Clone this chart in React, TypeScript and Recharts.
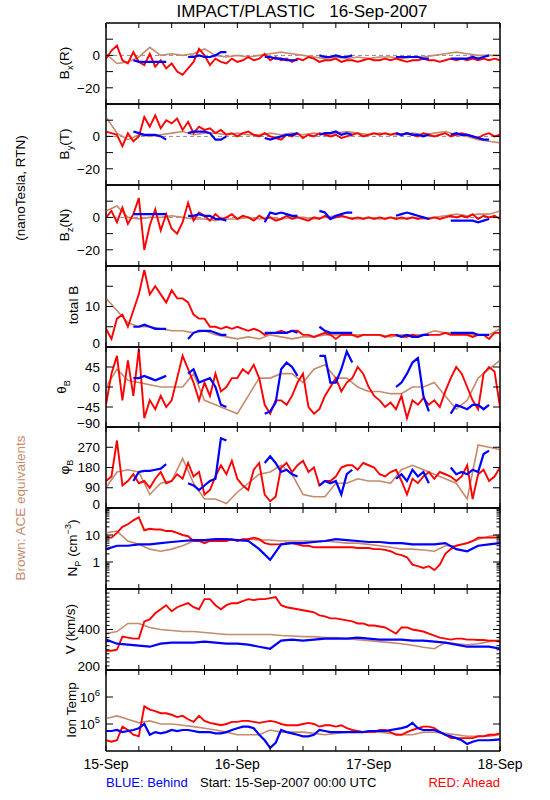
import React from 'react';
import { LineChart, Line, XAxis, YAxis, ReferenceLine, ReferenceArea } from 'recharts';

const FONT = '"Liberation Sans", Arial, sans-serif';
const RED = '#ff0000';
const BLUE = '#0000ff';
const BROWN = '#c68a6c';

// hours after 15-Sep-2007 00:00 UTC
const HOURS = [0,1,2,3,4,5,6,7,8,9,10,11,12,13,14,15,16,17,18,19,20,21,22,23,24,25,26,27,28,29,30,31,32,33,34,35,36,37,38,39,40,41,42,43,44,45,46,47,48,49,50,51,52,53,54,55,56,57,58,59,60,61,62,63,64,65,66,67,68,69,70,71,72];
const HOURS2 = [0,2,4,6,8,10,12,14,16,18,20,22,24,26,28,30,32,34,36,38,40,42,44,46,48,50,52,54,56,58,60,62,64,66,68,70,72];

const TIME_TICKS = [0,6,12,18,24,30,36,42,48,54,60,66,72];
const DAY_LABELS: Record<number, string> = { 0: '15-Sep', 24: '16-Sep', 48: '17-Sep', 72: '18-Sep' };

const n = null;

// Bx (R), nT
const bxRed = [
  -2, 3, 6, -3, -5, 2, -4, -6, 1, -7, -3, -8,
  -5, -10, -12, -8, -4, 4, 0, -6, -2, -4, -5, -2,
  -4, -3, -1, -3, -2, 1, -3, -1, -3, -2, -4, -2,
  -3, -1, -2, -4, -3, -3, -2, -4, -3, -3, -4, -3,
  -2, -3, -3, -2, -3, -2, -3, -4, -3, -3, -2, -3,
  -3, -4, -3, -2, -3, -2, -3, -2, -3, -2, -3, -2,
  -3,
];
const bxBlue = [
  n, n, n, n, n, -3, -4, -4, -4, -4, -4, -4,
  n, n, n, -1, -1, 0, -1, -1, 0, 2, 2, n,
  n, n, n, n, n, -1, -1, -2, -2, -3, -3, -3,
  n, n, n, 0, -1, -1, 0, -1, -1, 0, n, n,
  n, n, n, n, n, -1, -1, -1, -1, -1, -2, -2,
  n, n, n, -2, -2, -2, -2, -1, -2, -1, 0, n,
  n,
];
const bxBrown = [
  1, -5, -4, -1, 5, 0, 1, 0, 1, 4, 0, -1,
  0, -1, 0, 1, 2, 1, 0, -1, -2, -1, -2, -1,
  -2, -1, -1, -2, -1, -1, 0, 1, 2, 1, 0, 0,
  0,
];

// By (T), nT
const byRed = [
  3, 2, 1, -6, 2, -3, 0, 12, 6, 13, 5, 10,
  8, 11, 4, 9, 2, 6, 4, 5, 2, 4, 1, 2,
  0, 2, 3, 1, 0, 2, 0, -1, -2, 1, 0, 2,
  -1, 1, 0, 2, 1, 0, 1, -1, 0, 1, 2, 0,
  1, 2, 1, 2, 1, 2, 1, 2, 1, 0, 2, 1,
  0, 1, 2, 0, 1, 2, 1, 0, -1, 1, 2, 0,
  1,
];
const byBlue = [
  n, n, n, n, n, 3, 2, 1, 1, 1, 0, -2,
  n, n, n, 2, 3, 3, 3, 2, -2, -2, 0, n,
  n, n, n, n, n, -1, -2, -1, 0, 1, 1, 2,
  n, n, n, 1, 2, 2, 3, 1, 2, 1, n, n,
  n, n, n, n, n, 2, 1, 2, 1, 1, 0, 1,
  n, n, n, 1, 2, 1, 1, 0, -1, -2, -2, n,
  n,
];
const byBrown = [
  12, 2, -2, 1, 0, 1, 2, 3, 1, 2, 2, 1,
  2, 1, 1, 2, 1, 2, 1, 2, 1, 2, 3, 2,
  1, 2, 1, 1, 2, 1, 2, 3, 1, 0, -2, -3,
  -4,
];

// Bz (N), nT
const bzRed = [
  0, 4, -3, 6, -4, 2, 12, -20, -5, 5, -8, 2,
  -7, -10, -3, 9, -2, 3, 1, -2, 2, -1, 0, 2,
  -1, 1, 0, -2, 1, -1, 0, -2, -1, 1, -1, 0,
  -1, -2, 0, -1, 1, -1, 0, 1, 0, -1, 0, -1,
  0, -1, 0, -1, 0, -1, 0, -1, 0, -1, 0, -1,
  0, -1, 0, 1, 0, 1, 0, 2, -1, 1, 0, 1,
  -1,
];
const bzBlue = [
  n, n, n, n, n, 2, 2, 2, 2, 2, 2, 2,
  n, n, n, 1, 1, 2, 1, 1, -1, -1, -2, n,
  n, n, n, n, n, -3, 3, 2, 3, 2, 1, 1,
  n, n, n, 4, 3, -1, 1, 2, 3, 3, n, n,
  n, n, n, n, n, 1, 2, 3, 2, 1, 0, -1,
  n, n, n, -2, -2, -2, -2, -2, -3, -2, -1, n,
  n,
];
const bzBrown = [
  4, 7, 0, -1, 0, 0, 1, 0, -1, -1, -2, -1,
  -1, 0, -1, 0, -1, 0, 0, -1, 0, 1, 0, -1,
  0, -1, 0, -1, 0, -1, 0, 1, 2, 1, 2, 2,
  4,
];

// total B, nT
const btRed = [
  4.5, 2, 7, 8, 5, 9, 13, 19, 13, 15, 13, 11,
  14, 12, 12, 11, 8, 7, 7, 5, 5, 4.5, 5, 4.5,
  5, 4.5, 4, 4.5, 4, 3, 3.5, 3.5, 4, 3.5, 4, 4,
  3, 3, 2.5, 3, 3.5, 3, 2, 3, 3, 3, 2.5, 3,
  3, 3, 3, 2.5, 3, 3, 2.5, 2.5, 3, 2.5, 3, 3,
  3, 3, 3.5, 3, 3, 3, 3, 2.5, 3, 3, 2, 3.5,
  3.5,
];
const btBlue = [
  n, n, n, n, n, 5, 5, 5.5, 5, 4.5, 4.5, 4.5,
  n, n, n, 2, 3.5, 4, 4, 4, 3.5, 3, 3, n,
  n, n, n, n, n, 3.5, 3.5, 3.5, 3.5, 3.5, 4, 3.5,
  n, n, n, 5, 4, 3.5, 3.5, 3.5, 3.5, 3.5, n, n,
  n, n, n, n, n, 3, 2.5, 3, 2.5, 2.5, 3, 3,
  n, n, n, 3.5, 3.5, 3.5, 3.5, 3.5, 3, 3, 3, n,
  n,
];
const btBrown = [
  12, 9, 6, 5, 5, 4.5, 4, 4, 3.5, 4, 3, 2.5,
  2, 2.5, 2, 3, 2.5, 2, 2.5, 2.5, 3, 3, 3, 3,
  3, 3, 2.5, 3, 3, 3, 4, 3.5, 3.5, 3, 3, 3,
  4.5,
];

// theta_B, degrees
const thRed = [
  -40, 30, 70, -30, 60, -20, 85, -70, -30, -50, -20, -45,
  -30, 20, 70, 40, 10, -30, 10, -20, 30, -10, 0, 20,
  20, 40, 30, 50, 20, -40, -60, -30, -30, -40, -20, 10,
  30, -45, -60, -50, -20, 0, 20, -10, 10, 20, 45, 30,
  0, -20, -30, -45, -35, -50, -20, -70, -30, -40, -25, -40,
  -30, -45, -10, 20, 45, 30, 0, -30, -50, 30, 45, 35,
  -45,
];
const thBlue = [
  n, n, n, n, n, 20, 20, 25, 20, 15, 20, 25,
  n, n, n, 30, 40, 10, 15, 20, 0, -40, -45, n,
  n, n, n, n, n, -60, -55, -35, 40, 55, 45, 25,
  n, n, n, 70, 70, 10, 10, 40, 80, 55, n, n,
  n, n, n, n, n, 0, 10, 30, 55, 65, -20, -55,
  n, n, n, -60, -40, -45, -50, -40, -40, -50, -40, n,
  n,
];
const thBrown = [
  0, 40, 15, 10, 5, 0, 0, 0, 30, -30, -40, -50,
  -60, -20, 20, 20, 30, 30, 10, 40, 50, 20, 20, 0,
  -10, -10, -15, -15, 0, 0, 10, -20, -50, -30, 20, 40,
  60,
];

// phi_B, degrees
const phRed = [
  120, 140, 300, 100, 120, 150, 110, 120, 90, 130, 160, 110,
  120, 150, 130, 200, 140, 160, 60, 80, 140, 190, 150, 210,
  130, 100, 80, 170, 200, 60, 30, 50, 180, 200, 160, 190,
  210, 160, 180, 100, 120, 120, 140, 180, 190, 190, 170, 200,
  190, 180, 150, 140, 160, 170, 120, 60, 130, 110, 140, 160,
  130, 160, 150, 140, 120, 140, 190, 40, 150, 170, 120, 140,
  180,
];
const phBlue = [
  n, n, n, n, n, 120, 160, 165, 165, 170, 175, 195,
  n, n, n, 110, 100, 80, 100, 120, 130, 310, 300, n,
  n, n, n, n, n, 200, 230, 200, 160, 170, 150, 140,
  n, n, n, 100, 120, 110, 120, 60, 150, 170, n, n,
  n, n, n, n, n, 130, 150, 120, 170, 140, 160, 110,
  n, n, n, 180, 150, 160, 150, 170, 160, 240, 255, n,
  n,
];
const phBrown = [
  90, 160, 170, 160, 60, 110, 120, 220, 110, 40, 40, 20,
  70, 110, 150, 160, 190, 150, 60, 50, 50, 110, 110, 130,
  120, 120, 110, 170, 190, 170, 150, 130, 110, 40, 280, 270,
  260,
];

// proton density, cm^-3
const npRed = [
  8, 8, 12, 20, 25, 35, 45, 15, 17, 16, 16, 14,
  14, 12, 10, 9, 6, 6, 5, 6, 6, 6, 6, 7,
  6, 7, 7, 8, 7, 5, 4.5, 4.5, 4.5, 5, 5, 4.5,
  4, 4, 3.5, 3.5, 3.5, 3.5, 3.5, 3.5, 3.5, 3.5, 3.3, 3.3,
  3.3, 3, 3, 2.8, 2.5, 2, 1.8, 1.5, 0.8, 0.7, 0.6, 0.7,
  0.5, 0.8, 2, 3, 4, 4.5, 5, 6, 8, 8, 8, 8,
  8,
];
const npBlue = [
  3, 4, 4, 4.5, 4.5, 5, 5.5, 6, 6.5, 6.5, 7, 7,
  6.5, 6, 3, 1.2, 4.5, 5, 5, 5.5, 6, 7, 6.5, 6,
  5.5, 5.5, 5, 5, 4.5, 4.5, 4.5, 5, 3, 2.5, 4, 4.5,
  5,
];
const npBrown = [
  12, 14, 6, 4.5, 3, 2.5, 3, 4, 6, 6, 6.5, 7,
  6.5, 7, 6.5, 6.5, 6, 6, 6, 6, 6, 5.5, 5, 5,
  4.5, 4, 3.5, 3, 3, 2.8, 2.5, 4, 4, 5, 7, 9,
  10,
];

// bulk speed, km/s
const vRed = [
  295, 295, 300, 365, 360, 355, 355, 440, 450, 480, 500, 520,
  490, 510, 520, 530, 510, 500, 550, 550, 520, 500, 520, 530,
  530, 540, 550, 545, 550, 550, 555, 560, 520, 510, 505, 500,
  495, 490, 485, 470, 465, 455, 455, 450, 445, 440, 430, 430,
  420, 420, 415, 410, 395, 380, 410, 410, 400, 395, 390, 380,
  370, 360, 355, 350, 355, 355, 350, 350, 348, 348, 345, 345,
  345,
];
const vBlue = [
  350, 330, 325, 320, 315, 330, 335, 335, 335, 340, 335, 330,
  330, 325, 315, 305, 345, 350, 345, 350, 355, 355, 355, 360,
  355, 350, 350, 350, 345, 345, 340, 335, 325, 315, 315, 315,
  305,
];
const vBrown = [
  380, 390, 430, 430, 410, 400, 395, 390, 390, 385, 380, 375,
  375, 375, 375, 375, 370, 368, 365, 365, 360, 360, 355, 350,
  345, 340, 335, 330, 322, 312, 305, 335, 330, 325, 330, 340,
  345,
];

// ion temperature, K
const tRed = [
  2.5e4, 2.2e4, 2.5e4, 8e4, 6e4, 4e4, 3.5e4, 4.5e5, 3.4e5, 3e5, 2.5e5, 2.5e5,
  2.2e5, 1.8e5, 2e5, 1.5e5, 1.2e5, 2e5, 1.3e5, 1.1e5, 1e5, 9e4, 1e5, 1.2e5,
  1.2e5, 1.3e5, 1.3e5, 1.2e5, 1.1e5, 1.2e5, 1.3e5, 1.2e5, 1e5, 9e4, 9e4, 9e4,
  1e5, 1.1e5, 1e5, 8e4, 9e4, 9e4, 8e4, 9e4, 7e4, 6e4, 5.5e4, 5e4,
  5e4, 5e4, 6e4, 6e4, 5e4, 4e4, 4e4, 5e4, 6e4, 7e4, 8e4, 8e4,
  7e4, 5e4, 4e4, 3e4, 3e4, 3e4, 3e4, 3e4, 3.5e4, 3.5e4, 4e4, 4e4,
  4.5e4,
];
const tBlue = [
  5.5e4, 5.5e4, 6e4, 5e4, 5.5e4, 6e4, 7e4, 1e5, 4e4, 5e4, 4.5e4, 5e4,
  6e4, 5.5e4, 6e4, 6e4, 5.5e4, 5e4, 5e4, 5e4, 4.5e4, 4.5e4, 5e4, 6e4,
  7e4, 8e4, 8e4, 7e4, 4e4, 2.5e4, 1.3e4, 2e4, 6e4, 5e4, 4.5e4, 4e4,
  3.5e4, 3.5e4, 4e4, 6e4, 5.5e4, 5e4, 5e4, 5e4, 5e4, 5e4, 5e4, 5e4,
  5.5e4, 5.5e4, 5.5e4, 5.5e4, 6e4, 6.5e4, 7e4, 8e4, 1.1e5, 7e4, 6e4, 6e4,
  6e4, 5e4, 4e4, 3.5e4, 3e4, 2.5e4, 1.8e4, 2.2e4, 2.5e4, 2.5e4, 2.5e4, 2.6e4,
  2.7e4,
];
const tBrown = [
  1.6e5, 2e5, 1.5e5, 1.1e5, 1.3e5, 1e5, 1e5, 9e4, 8e4, 7e4, 6e4, 5e4,
  4e4, 4e4, 4e4, 6e4, 5e4, 5e4, 5e4, 4.5e4, 4e4, 4.5e4, 5e4, 5e4,
  5e4, 5e4, 4.5e4, 4e4, 4e4, 5e4, 5e4, 4.5e4, 4e4, 3.5e4, 3.5e4, 3.5e4,
  4e4,
];

// y tick values and labels
const B_TICKS = [-20, -10, 0, 10];
const B_LABELS: Record<string, string> = { '-20': '\u221220', '0': '0' };
const BT_TICKS = [0, 5, 10, 15];
const BT_LABELS: Record<string, string> = { '0': '0', '10': '10' };
const TH_TICKS = [-90, -45, 0, 45];
const TH_LABELS: Record<string, string> = { '-90': '\u221290', '-45': '\u221245', '0': '0', '45': '45' };
const PH_TICKS = [0, 90, 180, 270];
const PH_LABELS: Record<string, string> = { '0': '0', '90': '90', '180': '180', '270': '270' };
const NP_TICKS = [0.2, 0.3, 0.4, 0.5, 0.6, 0.7, 0.8, 0.9, 1, 2, 3, 4, 5, 6, 7, 8, 9, 10, 20, 30, 40, 50, 60, 70, 80, 90];
const NP_MAJOR = [1, 10];
const NP_LABELS: Record<string, string> = { '1': '1', '10': '10' };
const V_TICKS = [200, 220, 240, 260, 280, 300, 320, 340, 360, 380, 400, 420, 440, 460, 480, 500, 520, 540, 560, 580];
const V_MAJOR = [200, 400];
const V_LABELS: Record<string, string> = { '200': '200', '400': '400' };
const T_TICKS = [1e5, 1e6];
const T_LABELS: Record<string, string> = { '100000': '10^5', '1000000': '10^6' };

type Vals = (number | null)[];

interface PanelCfg {
  top: number;
  height: number;
  domain: [number, number];
  log?: boolean;
  ticks: number[];
  major: number[];
  labels: Record<string, string>;
  red: Vals;
  blue: Vals;
  brown: Vals;
  blueHours: number[];
  zero?: boolean;
  last?: boolean;
}

const toRows = (hours: number[], vals: Vals) => vals.map((v, i) => ({ t: hours[i], v }));

const LabelText = ({ x, y, text }: { x: number; y: number; text: string }) => {
  const [base, sup] = text.split('^');
  return (
    <text x={x} y={y} dy="0.35em" textAnchor="end" fontSize={13.5} fontFamily={FONT} fill="#000">
      {base}
      {sup && (
        <tspan dy={-6} fontSize={9.5}>
          {sup}
        </tspan>
      )}
    </text>
  );
};

function YTick(props: any) {
  const { x, y, payload, side, cfg } = props;
  const v = payload.value;
  const len = cfg.major.includes(v) ? 7 : 3.5;
  const dir = side === 'left' ? 1 : -1;
  const label = side === 'left' ? cfg.labels[String(v)] : undefined;
  const shift = v === cfg.domain[0] ? -4 : 0;
  return (
    <g>
      <line x1={x} x2={x + dir * len} y1={y} y2={y} stroke="#000" strokeWidth={1} />
      {label && <LabelText x={x - 6} y={y + shift} text={label} />}
    </g>
  );
}

function XTick(props: any) {
  const { x, y, payload, side, last } = props;
  const v = payload.value;
  const dir = side === 'top' ? 1 : -1;
  return (
    <g>
      <line x1={x} x2={x} y1={y} y2={y + dir * 5} stroke="#000" strokeWidth={1} />
      {last && side === 'bottom' && DAY_LABELS[v] && (
        <text x={x} y={y + 18} textAnchor="middle" fontSize={14} fontFamily={FONT} fill="#000">
          {DAY_LABELS[v]}
        </text>
      )}
    </g>
  );
}

function Panel({ cfg }: { cfg: PanelCfg }) {
  const bottomAxis = cfg.last ? 30 : 1;
  const scale = cfg.log ? 'log' : 'linear';
  return (
    <div style={{ position: 'absolute', left: 0, top: cfg.top - 1 }}>
      <LineChart width={550} height={cfg.height + 1 + bottomAxis} margin={{ top: 0, right: 40, bottom: 0, left: 66 }}>
        <XAxis
          xAxisId="b"
          type="number"
          dataKey="t"
          domain={[0, 72]}
          ticks={TIME_TICKS}
          interval={0}
          height={bottomAxis}
          allowDataOverflow
          tickLine={false}
          tickSize={0}
          tickMargin={0}
          axisLine={{ stroke: '#000' }}
          tick={(p: any) => <XTick {...p} side="bottom" last={cfg.last} />}
        />
        <XAxis
          xAxisId="t"
          orientation="top"
          type="number"
          dataKey="t"
          domain={[0, 72]}
          ticks={TIME_TICKS}
          interval={0}
          height={1}
          allowDataOverflow
          tickLine={false}
          tickSize={0}
          tickMargin={0}
          axisLine={{ stroke: '#000' }}
          tick={(p: any) => <XTick {...p} side="top" />}
        />
        <YAxis
          yAxisId="l"
          type="number"
          scale={scale}
          domain={cfg.domain}
          ticks={cfg.ticks}
          interval={0}
          width={40}
          allowDataOverflow
          tickLine={false}
          tickSize={0}
          tickMargin={0}
          axisLine={{ stroke: '#000' }}
          tick={(p: any) => <YTick {...p} side="left" cfg={cfg} />}
        />
        <YAxis
          yAxisId="r"
          orientation="right"
          type="number"
          scale={scale}
          domain={cfg.domain}
          ticks={cfg.ticks}
          interval={0}
          width={10}
          allowDataOverflow
          tickLine={false}
          tickSize={0}
          tickMargin={0}
          axisLine={{ stroke: '#000' }}
          tick={(p: any) => <YTick {...p} side="right" cfg={cfg} />}
        />
        <ReferenceArea
          xAxisId="b"
          yAxisId="l"
          x1={0}
          x2={72}
          y1={cfg.domain[0]}
          y2={cfg.domain[1]}
          fill="none"
          fillOpacity={0}
          stroke="#000"
          strokeWidth={1}
          ifOverflow="visible"
        />
        {cfg.zero && (
          <ReferenceLine xAxisId="b" yAxisId="l" y={0} stroke="#8c8c8c" strokeDasharray="4 3" />
        )}
        <Line
          xAxisId="b"
          yAxisId="l"
          data={toRows(HOURS2, cfg.brown)}
          dataKey="v"
          stroke={BROWN}
          strokeWidth={1.6}
          dot={false}
          isAnimationActive={false}
        />
        <Line
          xAxisId="b"
          yAxisId="l"
          data={toRows(HOURS, cfg.red)}
          dataKey="v"
          stroke={RED}
          strokeWidth={1.9}
          dot={false}
          isAnimationActive={false}
        />
        <Line
          xAxisId="b"
          yAxisId="l"
          data={toRows(cfg.blueHours, cfg.blue)}
          dataKey="v"
          stroke={BLUE}
          strokeWidth={2.2}
          dot={false}
          connectNulls={false}
          isAnimationActive={false}
        />
      </LineChart>
    </div>
  );
}

const PANELS: PanelCfg[] = [
  { top: 23, height: 81, domain: [-30, 20], ticks: B_TICKS, major: B_TICKS, labels: B_LABELS, red: bxRed, blue: bxBlue, brown: bxBrown, blueHours: HOURS, zero: true },
  { top: 104, height: 81, domain: [-30, 20], ticks: B_TICKS, major: B_TICKS, labels: B_LABELS, red: byRed, blue: byBlue, brown: byBrown, blueHours: HOURS, zero: true },
  { top: 185, height: 81, domain: [-30, 20], ticks: B_TICKS, major: B_TICKS, labels: B_LABELS, red: bzRed, blue: bzBlue, brown: bzBrown, blueHours: HOURS, zero: true },
  { top: 266, height: 81, domain: [0, 20], ticks: BT_TICKS, major: BT_TICKS, labels: BT_LABELS, red: btRed, blue: btBlue, brown: btBrown, blueHours: HOURS },
  { top: 347, height: 80, domain: [-90, 90], ticks: TH_TICKS, major: TH_TICKS, labels: TH_LABELS, red: thRed, blue: thBlue, brown: thBrown, blueHours: HOURS },
  { top: 427, height: 81, domain: [0, 360], ticks: PH_TICKS, major: PH_TICKS, labels: PH_LABELS, red: phRed, blue: phBlue, brown: phBrown, blueHours: HOURS },
  { top: 508, height: 81, domain: [0.1, 100], log: true, ticks: NP_TICKS, major: NP_MAJOR, labels: NP_LABELS, red: npRed, blue: npBlue, brown: npBrown, blueHours: HOURS2 },
  { top: 589, height: 81, domain: [200, 600], ticks: V_TICKS, major: V_MAJOR, labels: V_LABELS, red: vRed, blue: vBlue, brown: vBrown, blueHours: HOURS2 },
  { top: 670, height: 81, domain: [1e4, 1e7], log: true, ticks: T_TICKS, major: T_TICKS, labels: T_LABELS, red: tRed, blue: tBlue, brown: tBrown, blueHours: HOURS, last: true },
];

const VText = ({ x, y, color = '#000', children }: { x: number; y: number; color?: string; children: React.ReactNode }) => (
  <text
    transform={`translate(${x},${y}) rotate(-90)`}
    textAnchor="middle"
    dy="0.35em"
    fontSize={13.5}
    fontFamily={FONT}
    fill={color}
  >
    {children}
  </text>
);

export default function App() {
  return (
    <div style={{ position: 'absolute', left: 0, top: 0, width: 550, height: 800, background: '#fff' }}>
      <style>{'.recharts-surface { overflow: visible; }'}</style>
      {PANELS.map((cfg, i) => (
        <Panel key={i} cfg={cfg} />
      ))}
      <svg width={550} height={800} style={{ position: 'absolute', left: 0, top: 0, pointerEvents: 'none' }}>
        <text x={302} y={17} textAnchor="middle" fontSize={17} fontFamily={FONT} style={{ whiteSpace: 'pre' }}>
          {'IMPACT/PLASTIC   16-Sep-2007'}
        </text>
        <VText x={20} y={188}>(nanoTesla, RTN)</VText>
        <VText x={20} y={508} color={BROWN}>Brown: ACE equivalents</VText>
        <VText x={64} y={63}>
          B<tspan dy={4} fontSize={9}>x</tspan>
          <tspan dy={-4}>(R)</tspan>
        </VText>
        <VText x={64} y={144}>
          B<tspan dy={4} fontSize={9}>y</tspan>
          <tspan dy={-4}>(T)</tspan>
        </VText>
        <VText x={64} y={225}>
          B<tspan dy={4} fontSize={9}>z</tspan>
          <tspan dy={-4}>(N)</tspan>
        </VText>
        <VText x={73} y={305}>total B</VText>
        <VText x={61} y={387}>
          θ<tspan dy={4} fontSize={9}>B</tspan>
        </VText>
        <VText x={64} y={467}>
          φ<tspan dy={4} fontSize={9}>B</tspan>
        </VText>
        <VText x={72} y={548}>
          N<tspan dy={4} fontSize={9}>P</tspan>
          <tspan dy={-4}> (cm</tspan>
          <tspan dy={-6} fontSize={9}>−3</tspan>
          <tspan dy={6}>)</tspan>
        </VText>
        <VText x={70} y={629}>V (km/s)</VText>
        <VText x={71} y={710}>Ion Temp</VText>
        <text x={106} y={787} fontSize={13} fontFamily={FONT} fill={BLUE}>BLUE: Behind</text>
        <text x={200} y={787} fontSize={13} fontFamily={FONT} fill="#000">Start: 15-Sep-2007 00:00 UTC</text>
        <text x={500} y={787} textAnchor="end" fontSize={13} fontFamily={FONT} fill={RED}>RED: Ahead</text>
      </svg>
    </div>
  );
}
